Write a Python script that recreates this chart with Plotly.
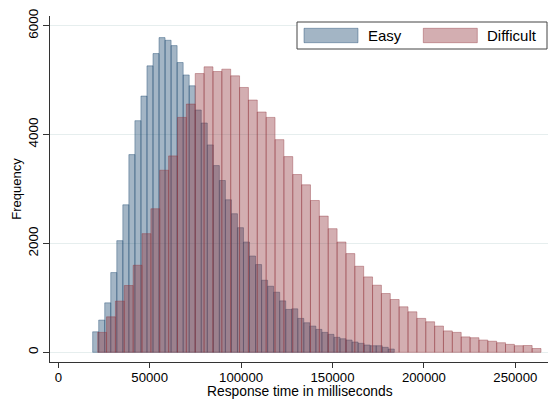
import plotly.graph_objects as go

# ---- data (50 bins per group) ----
easy_start = 18800
easy_width = 3300
easy_counts = [377, 592, 909, 1465, 2051, 2710, 3632, 4255, 4707, 5262,
               5488, 5781, 5732, 5634, 5323, 5095, 4896, 4451, 4212, 3810,
               3430, 3156, 2802, 2546, 2289, 2026, 1769, 1612, 1324, 1214,
               1104, 945, 788, 799, 623, 543, 482, 421, 366, 330,
               275, 249, 225, 189, 165, 134, 121, 121, 92, 60]

diff_start = 21550
diff_width = 4850
diff_counts = [366, 652, 940, 1227, 1599, 2180, 2637, 3345, 3608, 4315,
               4560, 5121, 5244, 5158, 5201, 5079, 4865, 4634, 4414, 4315,
               3907, 3595, 3266, 3077, 2789, 2502, 2271, 2026, 1813, 1581,
               1385, 1233, 1080, 970, 836, 744, 623, 561, 482, 393,
               366, 283, 268, 225, 204, 176, 146, 121, 125, 70]

x_ticks = [0, 50000, 100000, 150000, 200000, 250000]
y_ticks = [0, 2000, 4000, 6000]
series_names = ["Easy", "Difficult"]
x_title = "Response time in milliseconds"
y_title = "Frequency"

NAVY = (26, 71, 111)
MAROON = (144, 53, 59)
ALPHA = 0.4


def rgba(c, a):
    return f"rgba({c[0]},{c[1]},{c[2]},{a})"


def centers(start, width, n):
    return [start + width * (i + 0.5) for i in range(n)]


FONT = "Liberation Sans, Arial, sans-serif"

fig = go.Figure()
fig.add_trace(go.Bar(
    x=centers(easy_start, easy_width, len(easy_counts)), y=easy_counts,
    width=easy_width, name=series_names[0],
    marker=dict(color=rgba(NAVY, ALPHA), line=dict(color=rgba(NAVY, ALPHA), width=1)),
))
fig.add_trace(go.Bar(
    x=centers(diff_start, diff_width, len(diff_counts)), y=diff_counts,
    width=diff_width, name=series_names[1],
    marker=dict(color=rgba(MAROON, ALPHA), line=dict(color=rgba(MAROON, ALPHA), width=1)),
))

fig.update_layout(
    width=548, height=400,
    margin=dict(l=50, r=0, t=16, b=38),
    barmode="overlay",
    showlegend=False,
    plot_bgcolor="white", paper_bgcolor="white",
    font=dict(family=FONT, size=13.5, color="#000000"),
)

fig.update_xaxes(
    range=[-4540, 267880],
    tickvals=x_ticks, ticktext=[str(v) for v in x_ticks],
    showgrid=False, zeroline=False,
    showline=True, linecolor="#333333", linewidth=1,
    ticks="outside", ticklen=5, tickcolor="#333333",
    ticklabelstandoff=-2,
    tickfont=dict(size=13.2),
)
fig.update_yaxes(
    range=[-178, 6178],
    tickvals=y_ticks, ticktext=[str(v) for v in y_ticks],
    tickangle=-90,
    showgrid=True, gridcolor="#e6eeee", gridwidth=1,
    zeroline=True, zerolinecolor="#e6eeee", zerolinewidth=1,
    showline=True, linecolor="#333333", linewidth=1,
    ticks="outside", ticklen=6, tickcolor="#333333",
    tickfont=dict(size=13.5),
    title=dict(text=y_title, font=dict(size=13), standoff=1),
)


def px(x):
    return (x - 50) / 498.0


def py(y):
    return (362 - y) / 346.0


# x-axis title placed as an annotation at the bottom edge
fig.add_annotation(xref="paper", yref="paper", x=px(300), y=py(400),
                   text=x_title, showarrow=False, xanchor="center", yanchor="bottom",
                   borderpad=0,
                   font=dict(size=13.8, family=FONT, color="#000000"))

# ---- manual legend (Stata-style boxed legend) ----
fig.add_shape(type="rect", xref="paper", yref="paper",
              x0=px(297), x1=px(547), y0=py(49), y1=py(22),
              line=dict(color="#444444", width=1), fillcolor="white", layer="above")
fig.add_shape(type="rect", xref="paper", yref="paper",
              x0=px(304), x1=px(358), y0=py(42.7), y1=py(28.3),
              line=dict(color=rgba(NAVY, ALPHA), width=1), fillcolor=rgba(NAVY, ALPHA), layer="above")
fig.add_shape(type="rect", xref="paper", yref="paper",
              x0=px(423.3), x1=px(477.3), y0=py(42.7), y1=py(28.3),
              line=dict(color=rgba(MAROON, ALPHA), width=1), fillcolor=rgba(MAROON, ALPHA), layer="above")
fig.add_annotation(xref="paper", yref="paper", x=px(366), y=py(35.5),
                   text=series_names[0], showarrow=False, xanchor="left", yanchor="middle",
                   font=dict(size=15, family=FONT, color="#000000"))
fig.add_annotation(xref="paper", yref="paper", x=px(485), y=py(35.5),
                   text=series_names[1], showarrow=False, xanchor="left", yanchor="middle",
                   font=dict(size=15, family=FONT, color="#000000"))

fig.write_html("out.html")
